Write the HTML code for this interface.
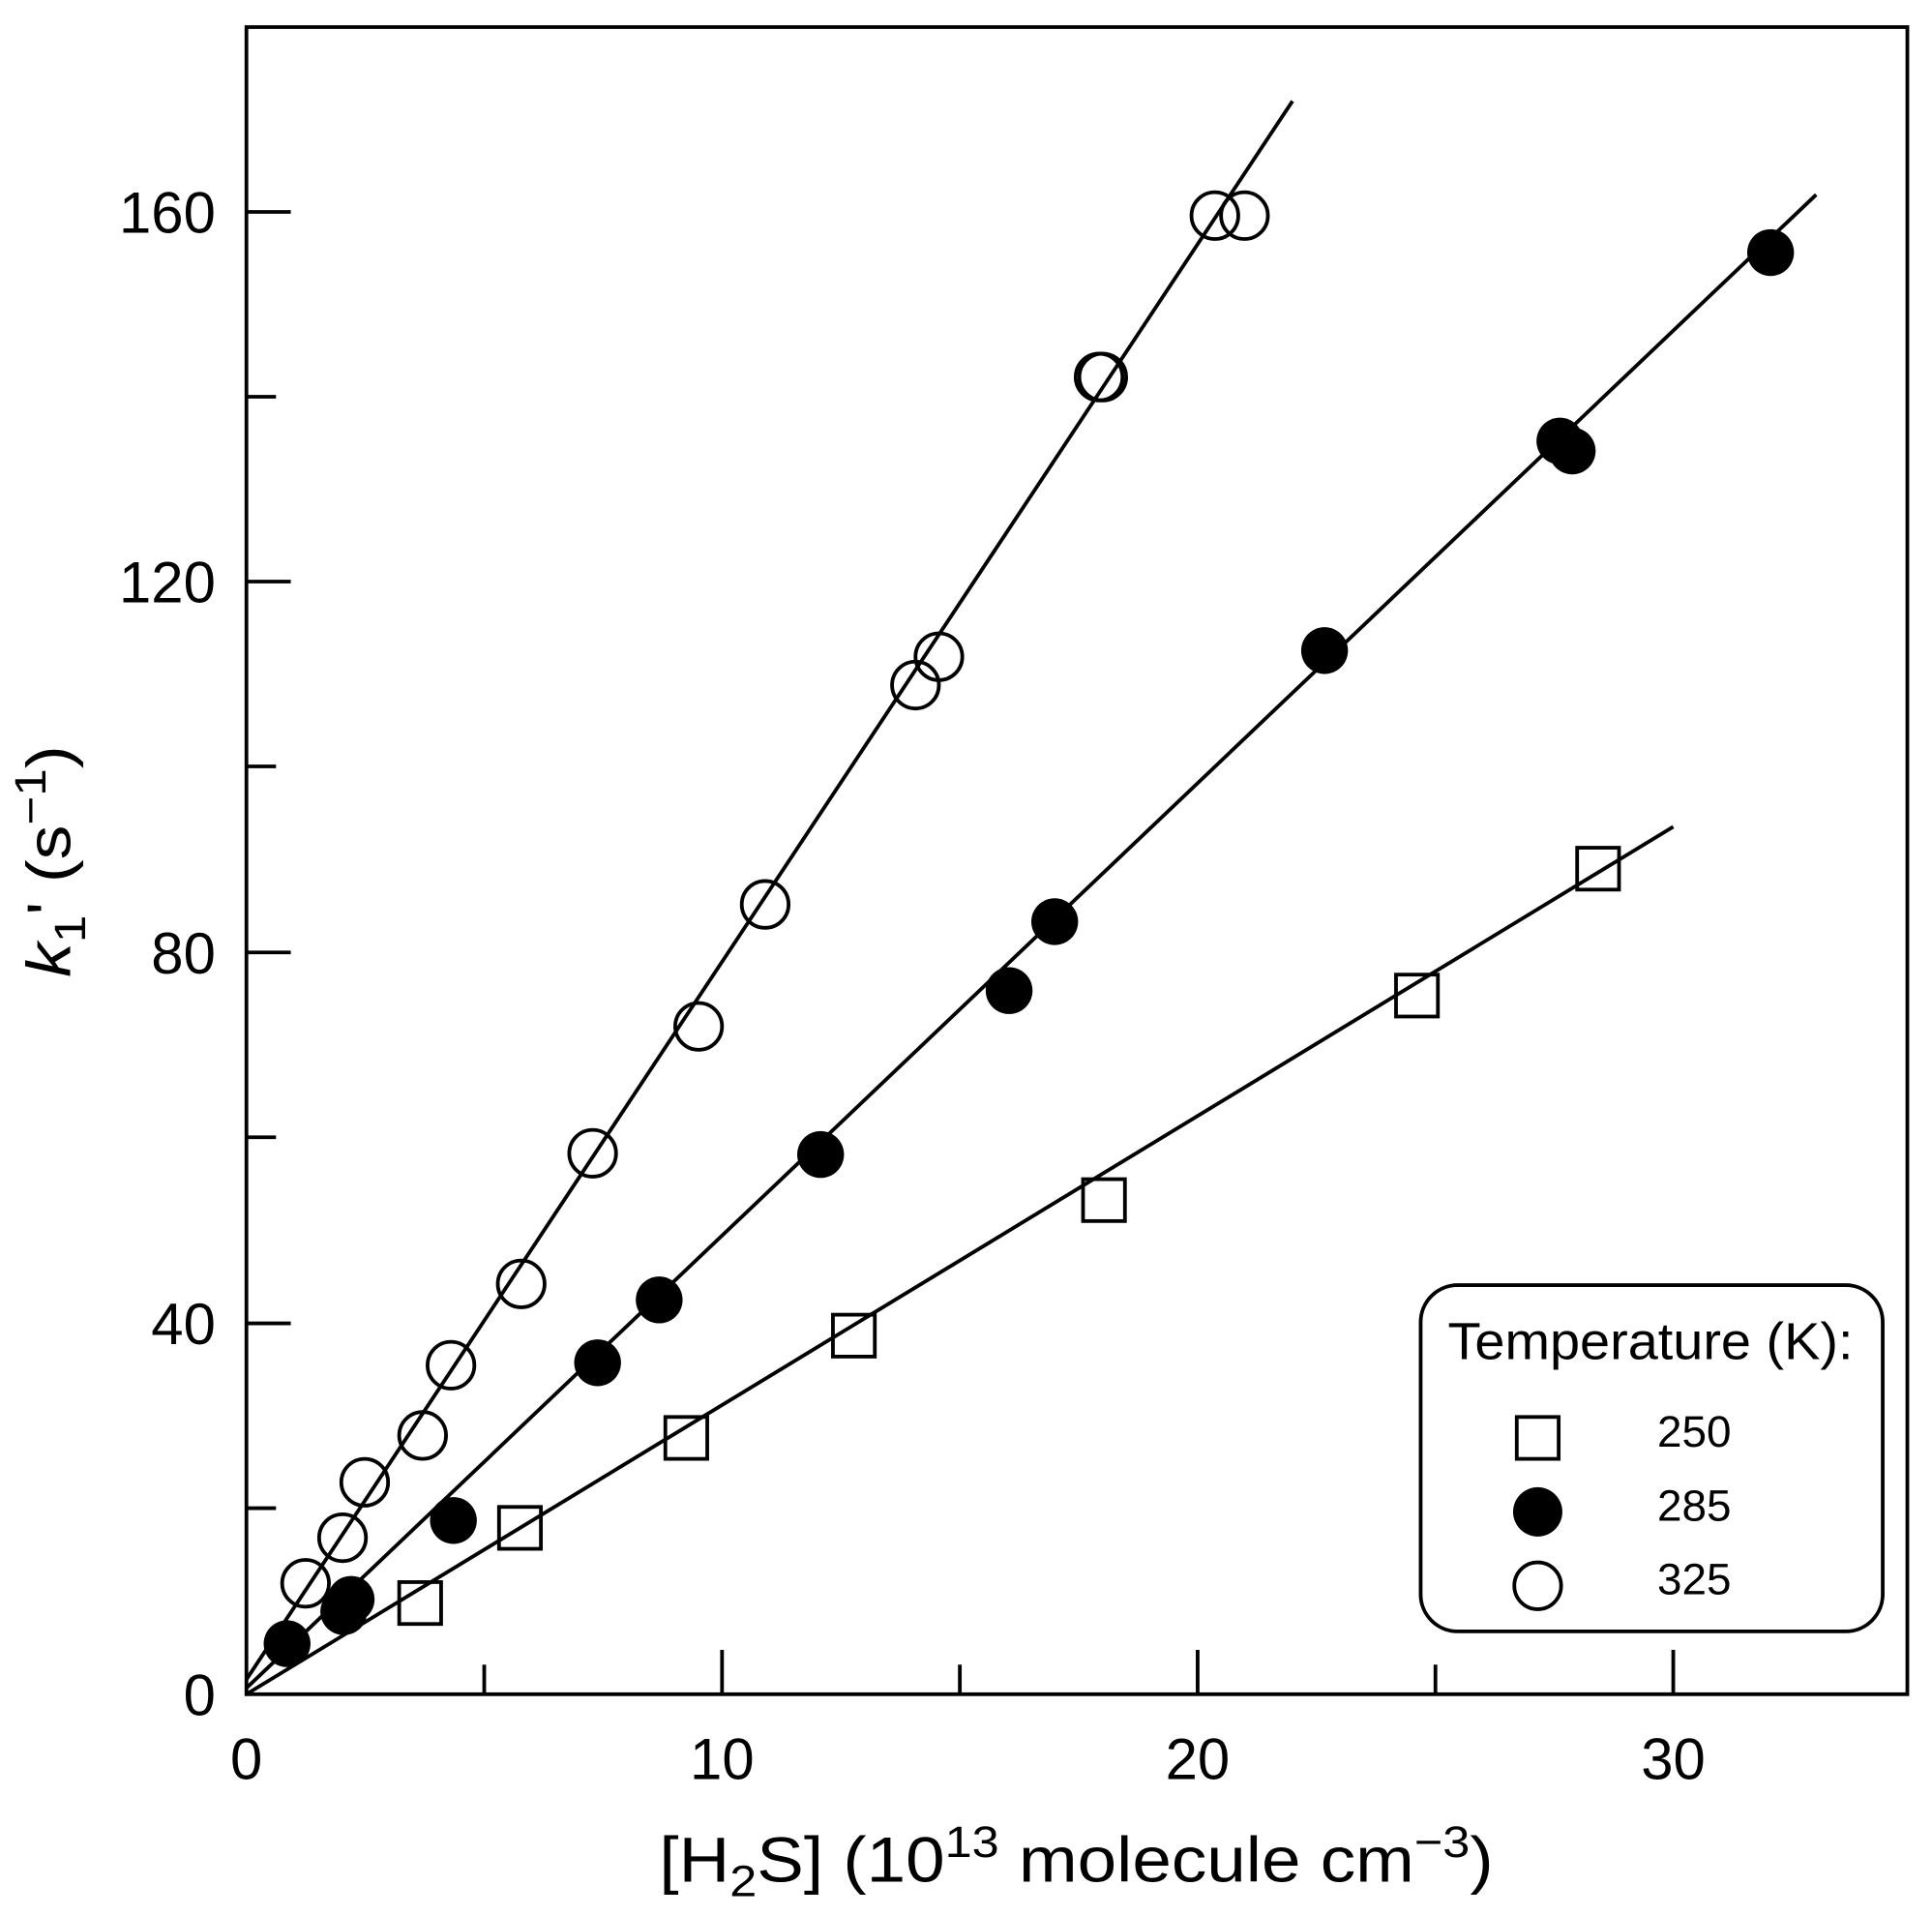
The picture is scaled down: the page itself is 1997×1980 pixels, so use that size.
<!DOCTYPE html>
<html><head><meta charset="utf-8"><style>
html,body{margin:0;padding:0;background:#fff;}
svg{display:block;}
text{font-family:"Liberation Sans",Arial,sans-serif;fill:#000;}
</style></head><body>
<svg width="1997" height="1980" viewBox="0 0 1568 1555" preserveAspectRatio="none" xmlns="http://www.w3.org/2000/svg">
<rect x="200" y="22" width="1348" height="1353" fill="none" stroke="#000" stroke-width="3"/>
<g stroke="#000" stroke-width="3">
<line x1="586" y1="1375" x2="586" y2="1339"/>
<line x1="972" y1="1375" x2="972" y2="1339"/>
<line x1="1358" y1="1375" x2="1358" y2="1339"/>
<line x1="393" y1="1375" x2="393" y2="1351"/>
<line x1="779" y1="1375" x2="779" y2="1351"/>
<line x1="1165" y1="1375" x2="1165" y2="1351"/>
<line x1="200" y1="1074" x2="236" y2="1074"/>
<line x1="200" y1="773" x2="236" y2="773"/>
<line x1="200" y1="472" x2="236" y2="472"/>
<line x1="200" y1="172" x2="236" y2="172"/>
<line x1="200" y1="1224" x2="224" y2="1224"/>
<line x1="200" y1="923" x2="224" y2="923"/>
<line x1="200" y1="622" x2="224" y2="622"/>
<line x1="200" y1="322" x2="224" y2="322"/>
</g>
<g font-size="47" text-anchor="end">
<text x="175" y="1392">0</text>
<text x="175" y="1091">40</text>
<text x="175" y="790">80</text>
<text x="175" y="489">120</text>
<text x="175" y="189">160</text>
</g>
<g font-size="47" text-anchor="middle">
<text x="200" y="1444">0</text>
<text x="586" y="1444">10</text>
<text x="972" y="1444">20</text>
<text x="1358" y="1444">30</text>
</g>
<text x="535" y="1527" font-size="52" textLength="677" lengthAdjust="spacingAndGlyphs">[H<tspan font-size="36" dy="12">2</tspan><tspan dy="-12">S] (10</tspan><tspan font-size="36" dy="-20">13</tspan><tspan dy="20"> molecule cm</tspan><tspan font-size="36" dy="-20">−3</tspan><tspan dy="20">)</tspan></text>
<text transform="translate(57,793) rotate(-90)" font-size="50" textLength="188" lengthAdjust="spacingAndGlyphs"><tspan font-style="italic">k</tspan><tspan font-size="36" dy="12">1</tspan><tspan dy="-12">' (s</tspan><tspan font-size="36" dy="-20">−1</tspan><tspan dy="20">)</tspan></text>
<g stroke="#000" stroke-width="3">
<line x1="200" y1="1363" x2="1049" y2="82"/>
<line x1="200" y1="1370" x2="1474" y2="158"/>
<line x1="200" y1="1375" x2="1358" y2="671"/>
</g>
<g fill="none" stroke="#000" stroke-width="3">
<circle cx="248" cy="1285" r="19"/><circle cx="278" cy="1248" r="19"/><circle cx="296" cy="1203" r="19"/>
<circle cx="343" cy="1165" r="19"/><circle cx="366" cy="1108" r="19"/><circle cx="423" cy="1042" r="19"/>
<circle cx="481" cy="936" r="19"/><circle cx="567" cy="833" r="19"/><circle cx="621" cy="734" r="19"/>
<circle cx="743" cy="556" r="19"/><circle cx="762" cy="533" r="19"/><circle cx="892" cy="306" r="19"/>
<circle cx="895" cy="306" r="19"/><circle cx="986" cy="175" r="19"/><circle cx="1010" cy="175" r="19"/>
</g>
<g fill="#000">
<circle cx="233" cy="1334" r="19"/><circle cx="279" cy="1308" r="19"/><circle cx="285" cy="1298" r="19"/>
<circle cx="368" cy="1234" r="19"/><circle cx="485" cy="1106" r="19"/><circle cx="535" cy="1055" r="19"/>
<circle cx="666" cy="937" r="19"/><circle cx="819" cy="804" r="19"/><circle cx="856" cy="748" r="19"/>
<circle cx="1075" cy="528" r="19"/><circle cx="1266" cy="358" r="19"/><circle cx="1276" cy="366" r="19"/>
<circle cx="1437" cy="205" r="19"/>
</g>
<g fill="none" stroke="#000" stroke-width="3">
<rect x="324" y="1284" width="34" height="34"/><rect x="405" y="1223" width="34" height="34"/>
<rect x="540" y="1150" width="34" height="34"/><rect x="676" y="1067" width="34" height="34"/>
<rect x="879" y="957" width="34" height="34"/><rect x="1133" y="791" width="34" height="34"/>
<rect x="1280" y="688" width="34" height="34"/>
</g>
<rect x="1153" y="1043" width="375" height="281" rx="30" ry="30" fill="#fff" stroke="#000" stroke-width="3"/>
<text x="1175" y="1103" font-size="42" textLength="329" lengthAdjust="spacingAndGlyphs">Temperature (K):</text>
<rect x="1231" y="1150" width="34" height="34" fill="#fff" stroke="#000" stroke-width="3"/>
<circle cx="1248" cy="1227" r="20" fill="#000"/>
<circle cx="1248" cy="1287" r="19" fill="#fff" stroke="#000" stroke-width="3"/>
<g font-size="36">
<text x="1345" y="1174">250</text>
<text x="1345" y="1234">285</text>
<text x="1345" y="1294">325</text>
</g>
</svg>
</body></html>
